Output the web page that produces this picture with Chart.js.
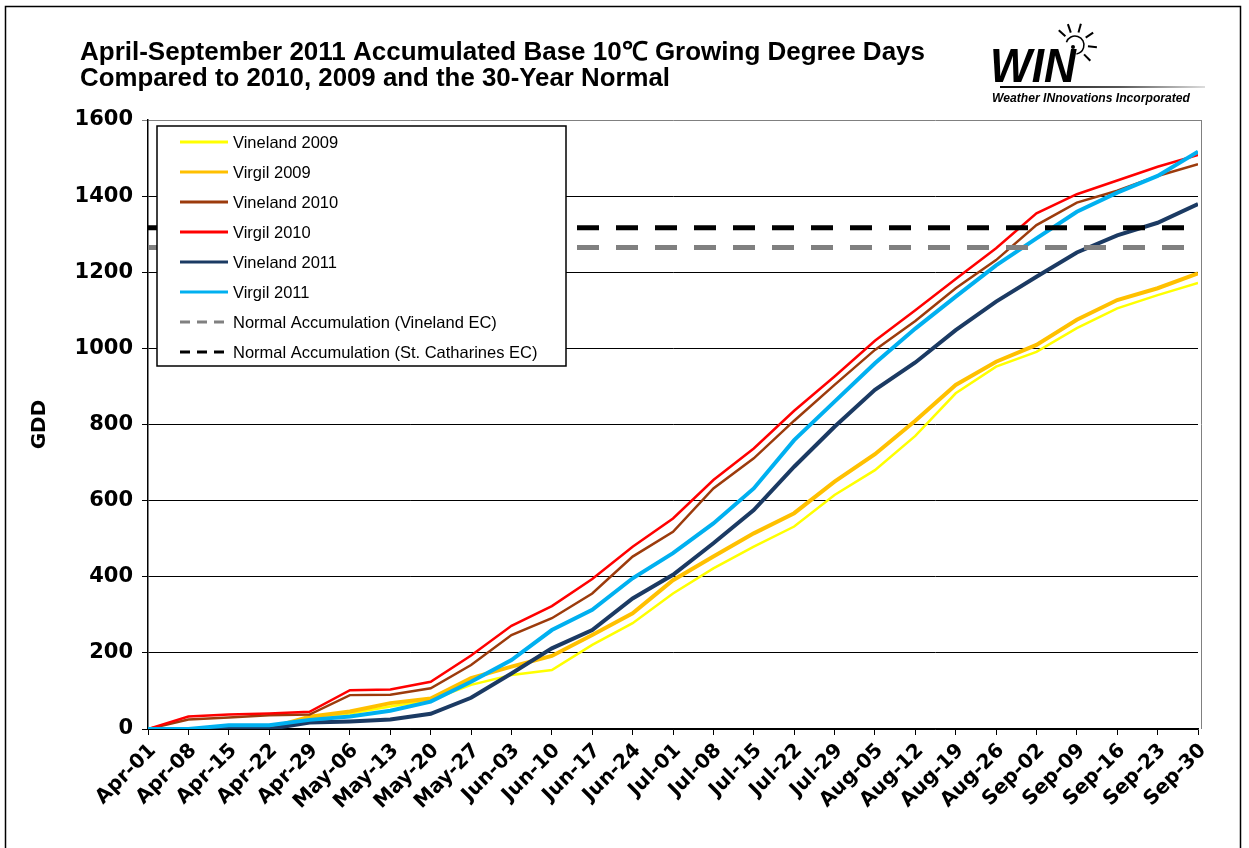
<!DOCTYPE html>
<html>
<head>
<meta charset="utf-8">
<script src="https://cdn.jsdelivr.net/npm/chart.js@4.4.1/dist/chart.umd.min.js"></script>
<style>
  html, body { margin: 0; padding: 0; background: #fff; }
  #wrap { width: 1249px; height: 848px; position: relative; }
</style>
</head>
<body>
<div id="wrap"><canvas id="gdd"></canvas></div>
<script>
// day offsets from Apr-01 (weekly readings)
const days = [0, 7, 14, 21, 28, 35, 42, 49, 56, 63, 70, 77, 84, 91, 98, 105, 112, 119, 126, 133, 140, 147, 154, 161, 168, 175, 182];
const tickLabels = ['Apr-01', 'Apr-08', 'Apr-15', 'Apr-22', 'Apr-29', 'May-06', 'May-13', 'May-20', 'May-27',
  'Jun-03', 'Jun-10', 'Jun-17', 'Jun-24', 'Jul-01', 'Jul-08', 'Jul-15', 'Jul-22', 'Jul-29',
  'Aug-05', 'Aug-12', 'Aug-19', 'Aug-26', 'Sep-02', 'Sep-09', 'Sep-16', 'Sep-23', 'Sep-30'];

const vineland2009 = [0, 0, 0, 0, 30, 41, 59, 76, 116, 142, 155, 221, 278, 356, 422, 479, 532, 615, 680, 770, 882, 952, 991, 1053, 1105, 1140, 1172];
const virgil2009 = [0, 0, 0, 2, 32, 46, 68, 80, 134, 164, 192, 247, 304, 391, 453, 514, 567, 650, 722, 810, 904, 965, 1009, 1075, 1127, 1158, 1197];
const vineland2010 = [0, 25, 30, 36, 38, 89, 90, 107, 168, 247, 291, 356, 453, 518, 632, 711, 810, 904, 996, 1072, 1158, 1232, 1324, 1383, 1414, 1453, 1484];
const virgil2010 = [0, 33, 38, 41, 45, 102, 104, 124, 193, 271, 323, 394, 479, 553, 654, 737, 836, 926, 1020, 1100, 1182, 1263, 1355, 1405, 1441, 1477, 1508];
const vineland2011 = [0, 0, 0, 0, 17, 20, 25, 40, 82, 146, 212, 260, 343, 405, 488, 575, 689, 794, 891, 963, 1048, 1123, 1188, 1252, 1297, 1330, 1379];
const virgil2011 = [0, 0, 10, 10, 24, 33, 48, 72, 124, 181, 260, 313, 396, 462, 540, 632, 759, 860, 961, 1052, 1136, 1218, 1289, 1359, 1409, 1453, 1517];
const normalVineland = 1265;
const normalStCatharines = 1317;

const titleLines = ['April-September 2011 Accumulated Base 10\u2103 Growing Degree Days',
  'Compared to 2010, 2009 and the 30-Year Normal'];

const pts = arr => arr.map((v, i) => ({ x: days[i], y: v }));
const flat = v => [{ x: days[0], y: v }, { x: days[days.length - 1], y: v }];

const series = [
  { label: 'Vineland 2009', data: pts(vineland2009), color: '#FFFF00', width: 2.5 },
  { label: 'Virgil 2009', data: pts(virgil2009), color: '#FFC000', width: 4 },
  { label: 'Vineland 2010', data: pts(vineland2010), color: '#9C3B0C', width: 2.5 },
  { label: 'Virgil 2010', data: pts(virgil2010), color: '#FF0000', width: 2.5 },
  { label: 'Vineland 2011', data: pts(vineland2011), color: '#1B3A63', width: 4 },
  { label: 'Virgil 2011', data: pts(virgil2011), color: '#00B0F0', width: 4 },
  { label: 'Normal Accumulation (Vineland EC)', data: flat(normalVineland), color: '#808080', width: 5, dash: [22, 17] },
  { label: 'Normal Accumulation (St. Catharines EC)', data: flat(normalStCatharines), color: '#000000', width: 5, dash: [22, 17] },
];

function fitText(ctx, text, x, y, width, font) {
  ctx.font = font;
  const w = ctx.measureText(text).width;
  ctx.save();
  ctx.translate(x, y);
  ctx.scale(width / w, 1);
  ctx.fillText(text, 0, 0);
  ctx.restore();
}

const decor = {
  id: 'decor',
  beforeDraw(chart) {
    const ctx = chart.ctx;
    ctx.save();
    ctx.fillStyle = '#fff';
    ctx.fillRect(0, 0, chart.width, chart.height);
    ctx.restore();
  },
  afterDraw(chart) {
    const ctx = chart.ctx;
    const a = chart.chartArea;
    ctx.save();
    // outer frame
    ctx.strokeStyle = '#000';
    ctx.lineWidth = 1.5;
    ctx.strokeRect(5.5, 6.5, 1235, 900);
    // plot right border
    ctx.strokeStyle = '#808080';
    ctx.lineWidth = 1;
    ctx.beginPath();
    ctx.moveTo(a.right + 3.5, a.top);
    ctx.lineTo(a.right + 3.5, a.bottom);
    ctx.moveTo(a.right, a.top + 0.5);
    ctx.lineTo(a.right + 3.5, a.top + 0.5);
    ctx.stroke();

    // title
    ctx.fillStyle = '#000';
    ctx.textBaseline = 'alphabetic';
    fitText(ctx, titleLines[0], 80, 60, 845, 'bold 26px "Liberation Sans", Arial, sans-serif');
    fitText(ctx, titleLines[1], 80, 86, 590, 'bold 26px "Liberation Sans", Arial, sans-serif');

    // WIN logo
    fitText(ctx, 'WIN', 990, 82, 86, 'italic bold 48px "Liberation Sans", Arial, sans-serif');
    fitText(ctx, 'Weather INnovations Incorporated', 992, 102, 198, 'italic bold 12px "Liberation Sans", Arial, sans-serif');
    const g = ctx.createLinearGradient(990, 0, 1205, 0);
    g.addColorStop(0, '#000');
    g.addColorStop(0.6, '#555');
    g.addColorStop(1, '#ddd');
    ctx.fillStyle = g;
    ctx.fillRect(1000, 86, 205, 2);
    ctx.strokeStyle = '#000';
    ctx.lineWidth = 1.5;
    const cx = 1075, cy = 45;
    ctx.beginPath();
    ctx.arc(cx, cy, 9, -Math.PI * 0.9, Math.PI * 0.45);
    ctx.stroke();
    ctx.lineWidth = 2;
    [-2.4, -1.9, -1.3, -0.6, 0.1, 0.8].forEach(t => {
      ctx.beginPath();
      ctx.moveTo(cx + Math.cos(t) * 13, cy + Math.sin(t) * 13);
      ctx.lineTo(cx + Math.cos(t) * 22, cy + Math.sin(t) * 22);
      ctx.stroke();
    });
    ctx.fillStyle = '#000';
    ctx.beginPath();
    ctx.arc(cx - 2, cy + 2, 2, 0, Math.PI * 2);
    ctx.fill();

    // legend box
    const lx = 157, ly = 126, lw = 409, lh = 240;
    ctx.fillStyle = '#fff';
    ctx.fillRect(lx, ly, lw, lh);
    ctx.strokeStyle = '#000';
    ctx.lineWidth = 1.5;
    ctx.strokeRect(lx, ly, lw, lh);
    ctx.font = '16.5px "Liberation Sans", Arial, sans-serif';
    ctx.textBaseline = 'middle';
    chart.data.datasets.forEach((ds, i) => {
      const y = ly + 16 + i * 30;
      ctx.strokeStyle = ds.borderColor;
      ctx.lineWidth = 3;
      ctx.setLineDash(ds.borderDash && ds.borderDash.length ? [10, 7] : []);
      ctx.beginPath();
      ctx.moveTo(180, y);
      ctx.lineTo(228, y);
      ctx.stroke();
      ctx.setLineDash([]);
      ctx.fillStyle = '#000';
      ctx.fillText(ds.label, 233, y + 1);
    });
    ctx.restore();
  }
};

new Chart(document.getElementById('gdd'), {
  type: 'line',
  data: {
    datasets: series.map((s, i) => ({
      label: s.label,
      data: s.data,
      borderColor: s.color,
      backgroundColor: s.color,
      borderWidth: s.width,
      borderDash: s.dash || [],
      pointRadius: 0,
      tension: 0,
      fill: false,
      order: series.length - i,
    })),
  },
  options: {
    responsive: true,
    maintainAspectRatio: false,
    devicePixelRatio: 1,
    animation: false,
    layout: { padding: { top: 120, right: 51, left: 0, bottom: 0 } },
    plugins: { legend: { display: false }, tooltip: { enabled: false } },
    scales: {
      x: {
        type: 'linear',
        min: 0,
        max: 182,
        afterFit: s => { s.height = 119; },
        grid: { drawOnChartArea: false, drawTicks: true, tickLength: 6, color: '#000', lineWidth: 1 },
        border: { color: '#000', width: 1.5 },
        ticks: {
          stepSize: 7,
          includeBounds: false,
          autoSkip: false,
          minRotation: 45,
          maxRotation: 45,
          padding: 4,
          labelOffset: 5,
          color: '#000',
          font: { family: '"DejaVu Sans"', weight: 'bold', size: 20 },
          callback: v => tickLabels[Math.round(v / 7)],
        },
      },
      y: {
        min: 0,
        max: 1600,
        afterFit: s => { s.width = 148; },
        grid: {
          color: c => (c.tick && c.tick.value === 1600 ? '#808080' : '#000'),
          lineWidth: 1,
          tickLength: 6,
        },
        border: { color: '#000', width: 1.5 },
        ticks: {
          stepSize: 200,
          padding: 9,
          color: '#000',
          font: { family: '"DejaVu Sans"', weight: 'bold', size: 21 },
          callback: v => String(v),
        },
        title: {
          display: true,
          text: 'GDD',
          color: '#000',
          padding: { top: 28, bottom: 0 },
          font: { family: '"DejaVu Sans"', weight: 'bold', size: 20 },
        },
      },
    },
  },
  plugins: [decor],
});
</script>
</body>
</html>
